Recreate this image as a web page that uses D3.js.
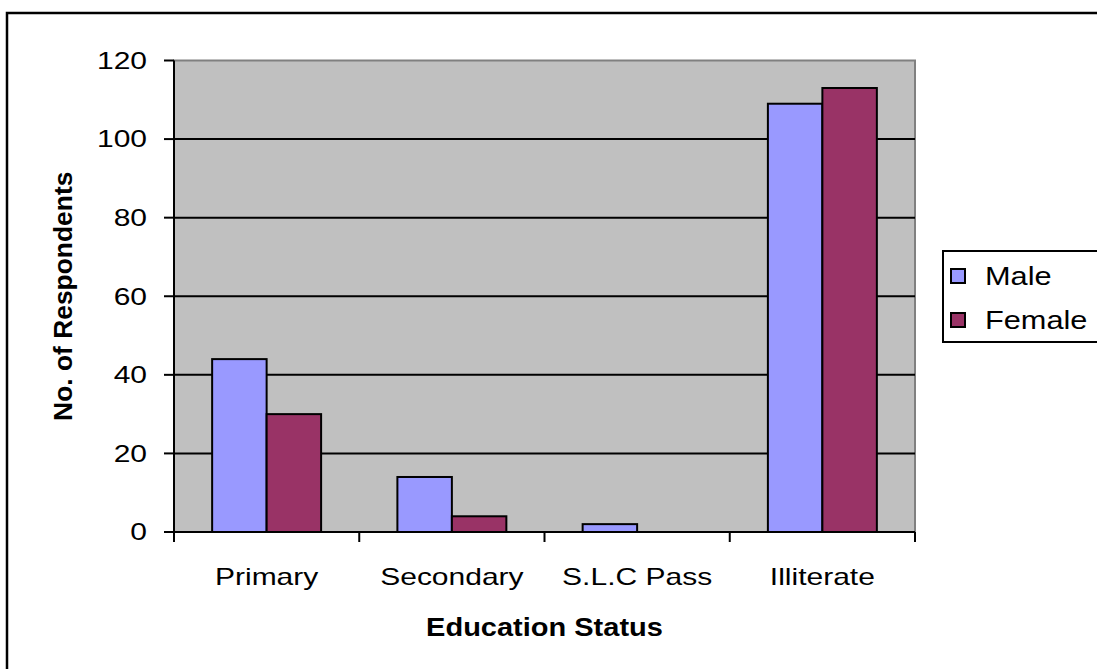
<!DOCTYPE html>
<html>
<head>
<meta charset="utf-8">
<script src="https://cdn.jsdelivr.net/npm/d3@7"></script>
<style>
  html, body { margin: 0; padding: 0; background: #fff; }
  svg { display: block; }
  text { font-family: "Liberation Sans", Arial, sans-serif; fill: #000; }
</style>
</head>
<body>
<script>
// Education status of respondents by gender
const categories = ["Primary", "Secondary", "S.L.C Pass", "Illiterate"];
const seriesNames = ["Male", "Female"];
const maleValues = [44, 14, 2, 109];
const femaleValues = [30, 4, 0, 113];
const yTicks = [0, 20, 40, 60, 80, 100, 120];
const xTitle = "Education Status";
const yTitle = "No. of Respondents";

const colors = { Male: "#9999FF", Female: "#993366" };
const valuesBySeries = { Male: maleValues, Female: femaleValues };

const W = 1097, H = 669;
const plot = { left: 174, right: 915, top: 60.5, bottom: 532 };
const textStretch = 1.25; // wide letterforms
const labelSize = 24;

const svg = d3.select("body").append("svg")
  .attr("width", W).attr("height", H);

// outer chart frame (continues past the right and bottom edges)
svg.append("rect")
  .attr("x", 7).attr("y", 13)
  .attr("width", W + 20).attr("height", H + 20)
  .attr("fill", "#fff").attr("stroke", "#000").attr("stroke-width", 2.5);

const x0 = d3.scaleBand().domain(categories)
  .range([plot.left, plot.right]).paddingInner(0).paddingOuter(0);
const x1 = d3.scaleBand().domain(seriesNames)
  .range([0, x0.bandwidth()]).paddingInner(0).paddingOuter(0.7);
const y = d3.scaleLinear().domain([0, 120]).range([plot.bottom, plot.top]);

// plot background
svg.append("rect")
  .attr("x", plot.left).attr("y", plot.top)
  .attr("width", plot.right - plot.left).attr("height", plot.bottom - plot.top)
  .attr("fill", "#C0C0C0").attr("stroke", "#808080").attr("stroke-width", 2);

// horizontal gridlines
svg.append("g").selectAll("line")
  .data(yTicks.filter(t => t > 0 && t < 120))
  .join("line")
  .attr("x1", plot.left).attr("x2", plot.right)
  .attr("y1", d => y(d)).attr("y2", d => y(d))
  .attr("stroke", "#000").attr("stroke-width", 2);

// bars
const groups = svg.append("g").selectAll("g")
  .data(categories)
  .join("g")
  .attr("transform", d => `translate(${x0(d)},0)`);

groups.selectAll("rect")
  .data((c, i) => seriesNames.map(s => ({ s, v: valuesBySeries[s][i] })).filter(d => d.v > 0))
  .join("rect")
  .attr("x", d => x1(d.s))
  .attr("width", x1.bandwidth())
  .attr("y", d => y(d.v))
  .attr("height", d => y(0) - y(d.v))
  .attr("fill", d => colors[d.s])
  .attr("stroke", "#000").attr("stroke-width", 2);

// y axis
const yAxis = svg.append("g");
yAxis.append("line")
  .attr("x1", plot.left).attr("x2", plot.left)
  .attr("y1", plot.top).attr("y2", plot.bottom)
  .attr("stroke", "#000").attr("stroke-width", 2);
yAxis.selectAll("line.tick").data(yTicks).join("line")
  .attr("class", "tick")
  .attr("x1", plot.left - 10).attr("x2", plot.left)
  .attr("y1", d => y(d)).attr("y2", d => y(d))
  .attr("stroke", "#000").attr("stroke-width", 2);
yAxis.selectAll("text").data(yTicks).join("text")
  .attr("transform", d => `translate(${plot.left - 27},${y(d)}) scale(${textStretch},1)`)
  .attr("text-anchor", "end")
  .attr("dominant-baseline", "central")
  .attr("font-size", labelSize)
  .text(d => d);

// x axis
const xAxis = svg.append("g");
xAxis.append("line")
  .attr("x1", plot.left).attr("x2", plot.right)
  .attr("y1", plot.bottom).attr("y2", plot.bottom)
  .attr("stroke", "#000").attr("stroke-width", 2);
const boundaries = categories.map(c => x0(c)).concat([x0(categories[categories.length - 1]) + x0.bandwidth()]);
xAxis.selectAll("line.tick").data(boundaries).join("line")
  .attr("class", "tick")
  .attr("x1", d => d).attr("x2", d => d)
  .attr("y1", plot.bottom).attr("y2", plot.bottom + 10)
  .attr("stroke", "#000").attr("stroke-width", 2);
xAxis.selectAll("text").data(categories).join("text")
  .attr("transform", d => `translate(${x0(d) + x0.bandwidth() / 2},${plot.bottom + 45}) scale(${textStretch},1)`)
  .attr("text-anchor", "middle")
  .attr("dominant-baseline", "central")
  .attr("font-size", labelSize)
  .text(d => d);

// axis titles
svg.append("text")
  .attr("transform", `translate(${(plot.left + plot.right) / 2},${plot.bottom + 95}) scale(1.16,1)`)
  .attr("text-anchor", "middle")
  .attr("dominant-baseline", "central")
  .attr("font-size", 25).attr("font-weight", "bold")
  .text(xTitle);
svg.append("text")
  .attr("transform", `translate(63,${(plot.top + plot.bottom) / 2}) rotate(-90) scale(1.1,1.1)`)
  .attr("text-anchor", "middle")
  .attr("dominant-baseline", "central")
  .attr("font-size", 24).attr("font-weight", "bold")
  .text(yTitle);

// legend
const legend = svg.append("g");
legend.append("rect")
  .attr("x", 943).attr("y", 251).attr("width", 200).attr("height", 91)
  .attr("fill", "#fff").attr("stroke", "#000").attr("stroke-width", 2);
const items = legend.selectAll("g.item").data(seriesNames).join("g")
  .attr("class", "item")
  .attr("transform", (d, i) => `translate(951,${276 + i * 44})`);
items.append("rect")
  .attr("x", 0).attr("y", -7).attr("width", 14).attr("height", 14)
  .attr("fill", d => colors[d]).attr("stroke", "#000").attr("stroke-width", 2);
items.append("text")
  .attr("transform", `translate(34,1) scale(1.28,1.04)`)
  .attr("dominant-baseline", "central")
  .attr("font-size", labelSize)
  .text(d => d);
</script>
</body>
</html>
